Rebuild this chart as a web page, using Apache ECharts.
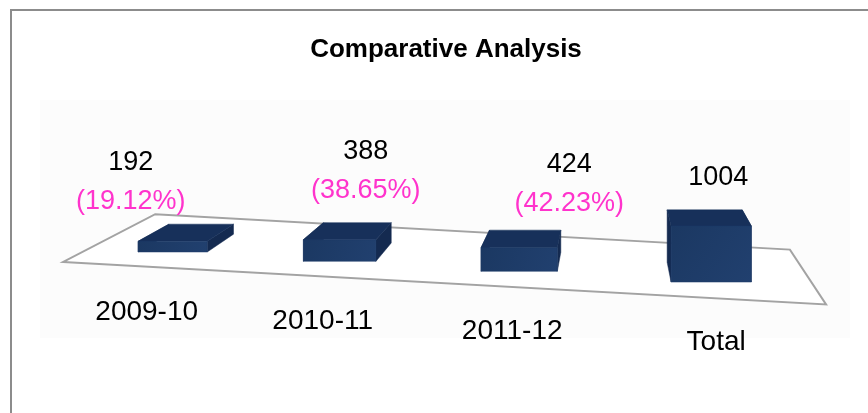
<!DOCTYPE html>
<html>
<head>
<meta charset="utf-8">
<script src="https://cdn.jsdelivr.net/npm/echarts@6/dist/echarts.min.js"></script>
<style>html,body{margin:0;padding:0;background:#fff}#main{width:868px;height:413px}</style>
</head>
<body>
<div id="main"></div>
<script>
const categories = ['2009-10', '2010-11', '2011-12', 'Total'];
const values = [192, 388, 424, 1004];
const shares = ['(19.12%)', '(38.65%)', '(42.23%)', ''];

// excel floats its 3d labels around, so nudge them by hand (px from bar front top / base)
const valueNudge = [[-42, -79], [26, -88], [50, -83], [7, -48]];
const catNudge = [-26, -17, -7, 5];

const VP = [611, -22];      // vanishing point of the view
const DEPTH_BAR = 0.065;
const DEPTH_FLOOR = 0.168;
const SKEW = 0.0558;        // floor runs downhill to the right
const FONT = 'Liberation Sans';

function toward(p, t) {
  return [p[0] + t * (VP[0] - p[0]), p[1] + t * (VP[1] - p[1])];
}

// perspective: columns spread out a little towards the right
function warpX(api, x) {
  const band = api.size([1, 0])[0];
  const mid = (api.coord([0, 0])[0] + api.coord([categories.length - 1, 0])[0]) / 2;
  const u = (x - mid) / band;
  return x + 6.25 * (u * u - 1.3);
}

function poly(points, fill, stroke) {
  return {type: 'polygon', shape: {points: points},
    style: {fill: fill, stroke: stroke || fill, lineWidth: stroke ? 2 : 0.5}};
}

function text(str, x, y, size, color) {
  return {type: 'text', style: {text: str, x: x, y: y, align: 'center', verticalAlign: 'middle',
    fontFamily: FONT, fontSize: size, fill: color}};
}

function renderFloor(params, api) {
  const first = api.coord([0, 0]);
  const x0 = warpX(api, first[0]);
  const x3 = warpX(api, api.coord([categories.length - 1, 0])[0]);
  const band = api.size([1, 0])[0];
  const fy = x => first[1] + SKEW * (x - x0) + 16;
  const xl = x0 - 0.61 * band, xr = x3 + 0.64 * band;
  const fl = [xl, fy(xl)], fr = [xr, fy(xr)];
  return poly([fl, fr, toward(fr, DEPTH_FLOOR), toward(fl, DEPTH_FLOOR)], '#fff', '#a3a3a3');
}

function renderBar(params, api) {
  const i = api.value(0);
  const v = api.value(1);
  const band = api.size([1, 0])[0];
  const x0 = warpX(api, api.coord([0, 0])[0]);
  const base = api.coord([i, 0]);
  const top = api.coord([i, v]);
  const cx = warpX(api, base[0]);
  const tilt = SKEW * (cx - x0);
  const y0 = base[1] + tilt, y1 = top[1] + tilt;
  const w = band * 0.385 * (1 + 0.0003 * (cx - x0));
  const fbl = [cx - w / 2, y0], fbr = [cx + w / 2, y0];
  const ftl = [cx - w / 2, y1], ftr = [cx + w / 2, y1];
  const bbl = toward(fbl, DEPTH_BAR), bbr = toward(fbr, DEPTH_BAR);
  const btl = toward(ftl, DEPTH_BAR), btr = toward(ftr, DEPTH_BAR);

  const kids = [
    poly([ftl, btl, bbl, fbl], '#142a50'),
    poly([ftr, btr, bbr, fbr], '#142a50'),
    poly([ftl, ftr, btr, btl], '#17305a'),
    {type: 'polygon', shape: {points: [ftl, ftr, fbr, fbl]},
      style: {stroke: '#1d3b68', lineWidth: 0.5, fill: {type: 'linear', x: 0, y: 0, x2: 1, y2: 1,
        colorStops: [{offset: 0, color: '#1b3862'}, {offset: 1, color: '#21406f'}]}}}
  ];

  const nx = cx + valueNudge[i][0], ny = y1 + valueNudge[i][1];
  kids.push(text(String(values[i]), nx, ny, 27, '#000'));
  if (shares[i]) kids.push(text(shares[i], nx, ny + 39, 27, '#ff33cc'));
  kids.push(text(categories[i], cx + catNudge[i], y0 + 60, 28, '#000'));
  return {type: 'group', children: kids};
}

const chart = echarts.init(document.getElementById('main'));
chart.setOption({
  animation: false,
  title: {
    text: 'Comparative Analysis', left: 446, top: 37, textAlign: 'center', padding: 0,
    textStyle: {fontFamily: FONT, fontWeight: 'bold', fontSize: 26, color: '#000'}
  },
  graphic: [
    {type: 'rect', z: -10, shape: {x: 40, y: 100, width: 810, height: 238}, style: {fill: '#fcfcfc'}},
    {type: 'rect', z: 100, shape: {x: 11, y: 10, width: 1000, height: 1000},
      style: {fill: 'none', stroke: '#8c8c8c', lineWidth: 2}}
  ],
  grid: {left: 77, right: 73, top: 185, bottom: 161},
  xAxis: {type: 'category', data: categories, show: false},
  yAxis: {type: 'value', min: 0, max: 1200, show: false},
  series: [
    {type: 'custom', z: 1, renderItem: renderFloor, data: [[0, 0]], silent: true},
    {type: 'custom', z: 2, renderItem: renderBar,
      data: values.map((v, i) => [i, v])}
  ]
});
</script>
</body>
</html>
